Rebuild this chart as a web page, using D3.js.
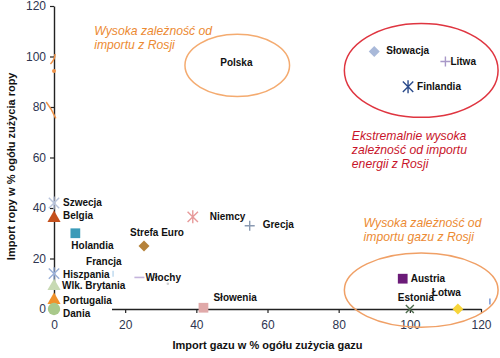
<!DOCTYPE html>
<html><head><meta charset="utf-8">
<script src="https://cdn.jsdelivr.net/npm/d3@7"></script>
<style>body{margin:0;background:#fff}svg{display:block}text{font-family:"Liberation Sans",Arial,sans-serif}</style>
</head><body>
<svg id="c" width="500" height="358"></svg>
<script>
const countries = ["Szwecja","Belgia","Holandia","Strefa Euro","Francja","Hiszpania","Włochy","","Wlk. Brytania","Portugalia","Dania","Niemcy","Grecja","Słowenia","Austria","Estonia","Łotwa","","Słowacja","Litwa","Finlandia","Polska"];
const gasImport = [0,0,6,25.3,16.6,0,24,32,0,0,0,39,55,42,98,100,113.5,122.5,90,110,99.5,51.5];
const oilImport = [42,36,30,25,14,14,12.5,10,9,3.5,0,36.5,33,0.5,12,0,0,3,102,98,88,97];
const markerShapes = ["asterisk","triangle","square","diamond","tick","asterisk","dash","dot","triangle","triangle","circle","asterisk","plus","square","square","x","diamond","tick","diamond","plus","asterisk","none"];
const markerColors = ["#b9c4dc","#c4501c","#3b9bb8","#b5823a","#bcd8ee","#9ab0d8","#c4b4dc","#cfcfcf","#c8dab4","#f0922c","#a9c98b","#e79a9a","#8a9ab2","#e0a9a9","#6b1b78","#4d6b4d","#f7d53a","#6f8fd0","#a9b9d9","#a898c8","#2b4b8b","none"];
const labelDx = [9,9,-4,-14,-27,9,6,0,8,9,9,17,13,10,8,-12,-26,0,12,5,9,-17];
const labelDy = [0,-3,12,-13,-12,1,0,0,-1,0,4,0,-1,-10,0,-12,-17,0,-1,0,0,-2];
const xTicks = [0,20,40,60,80,100,120];
const yTicks = [0,20,40,60,80,100,120];
const xTitle = "Import gazu w % ogółu zużycia gazu";
const yTitle = "Import ropy w % ogółu zużycia  ropy";
const notes = [
  {lines:["Wysoka zależność od","importu z Rosji"], color:"#ec8a32", gx:11.3, gy:108.5},
  {lines:["Ekstremalnie wysoka","zależność od importu","energii z Rosji"], color:"#c8142a", gx:83.7, gy:67},
  {lines:["Wysoka zależność od","importu gazu z Rosji"], color:"#ec8a32", gx:87, gy:32.6}
];
const ellipses = [
  {cx:51.5, cy:96.5, rx:14.7, ry:12.3, color:"#f4ab70"},
  {cx:103.2, cy:94.5, rx:21.6, ry:18.6, color:"#df3540"},
  {cx:103.2, cy:7.5, rx:21.6, ry:14.7, color:"#f0a066"}
];

const svg = d3.select("#c");
const x = d3.scaleLinear().domain([0,120]).range([54,481]);
const y = d3.scaleLinear().domain([0,120]).range([309,6]);

// axes
const xAxis = svg.append("g").attr("transform",`translate(0,${y(0)})`)
  .call(d3.axisBottom(x).tickValues(xTicks).tickSize(4).tickSizeOuter(0));
const yAxis = svg.append("g").attr("transform",`translate(${x(0)},0)`)
  .call(d3.axisLeft(y).tickValues(yTicks).tickSize(4).tickSizeOuter(0));
[xAxis,yAxis].forEach(a=>{
  a.select(".domain").attr("stroke","#222").attr("stroke-width",1.4);
  a.selectAll(".tick line").attr("stroke","#222").attr("stroke-width",1.2);
  a.selectAll(".tick text").attr("font-size",12).attr("fill","#2e3550").attr("font-family","Liberation Sans, Arial, sans-serif");
});
xAxis.selectAll(".tick text").attr("dy","1.05em");
yAxis.selectAll(".tick text").attr("x",-8);
// hidden part of x axis (covered in the original)
svg.append("rect").attr("x",x(0)+1).attr("y",y(0)-2).attr("width",x(16.3)-x(0)-1).attr("height",4).attr("fill","#fff");

// axis titles
svg.append("text").attr("x",(x(0)+x(120))/2).attr("y",349).attr("text-anchor","middle")
  .attr("font-size",11).attr("font-weight","bold").attr("fill","#111").text(xTitle);
svg.append("text").attr("transform",`translate(15,${y(56.5)}) rotate(-90)`).attr("text-anchor","middle")
  .attr("font-size",11).attr("font-weight","bold").attr("fill","#111").text(yTitle);

// ellipses
ellipses.forEach(e=>{
  svg.append("ellipse").attr("cx",x(e.cx)).attr("cy",y(e.cy))
    .attr("rx",x(e.rx)-x(0)).attr("ry",y(0)-y(e.ry))
    .attr("fill","none").attr("stroke",e.color).attr("stroke-width",1.5);
});
// orange fragments on the y axis
const frag = d3.path();
frag.moveTo(x(-1),y(97)); frag.quadraticCurveTo(x(0.3),y(99),x(0.3),y(101));
frag.moveTo(x(-2.2),y(82)); frag.quadraticCurveTo(x(-0.5),y(79),x(0.5),y(75.5));
svg.append("path").attr("d",frag.toString()).attr("fill","none").attr("stroke","#f0944a").attr("stroke-width",1.5);
svg.append("circle").attr("cx",x(0)).attr("cy",y(94.3)).attr("r",2).attr("fill","#f0944a");

// notes
notes.forEach(n=>{
  const t = svg.append("text").attr("x",x(n.gx)).attr("y",y(n.gy)).attr("font-size",12.2)
    .attr("font-style","italic").attr("fill",n.color);
  n.lines.forEach((l,i)=>t.append("tspan").attr("x",x(n.gx)).attr("dy",i?14:0).text(l));
});

// markers
function star(s){const r=s/2,d=r*0.8;return `M${-d},${-d}L${d},${d}M${-d},${d}L${d},${-d}M0,${-r}L0,${r}`;}
function diamond(r){return `M0,${-r}L${r},0L0,${r}L${-r},0Z`;}
const sym = {
  triangle: d3.symbol(d3.symbolTriangle,75)(),
  square: d3.symbol(d3.symbolSquare,95)(),
  diamond: diamond(5.5),
  circle: d3.symbol(d3.symbolCircle,120)(),
};
countries.forEach((c,i)=>{
  const sh=markerShapes[i], col=markerColors[i];
  const g = svg.append("g").attr("transform",`translate(${x(gasImport[i])},${y(oilImport[i])})`);
  if(sym[sh]) g.append("path").attr("d",sym[sh]).attr("fill",col);
  else if(sh==="asterisk") g.append("path").attr("d",star(13)).attr("stroke",col).attr("stroke-width",1.4).attr("fill","none");
  else if(sh==="plus") g.append("path").attr("d","M-5,0L5,0M0,-5L0,5").attr("stroke",col).attr("stroke-width",1.4);
  else if(sh==="x") g.append("path").attr("d","M-4,-4L4,4M-4,4L4,-4").attr("stroke",col).attr("stroke-width",1.4);
  else if(sh==="dash") g.append("path").attr("d","M-5,0L5,0").attr("stroke",col).attr("stroke-width",1.6);
  else if(sh==="tick") g.append("path").attr("d","M0,-3L0,3").attr("stroke",col).attr("stroke-width",1.4);
  else if(sh==="dot") g.append("circle").attr("r",1.3).attr("fill",col);
  if(c) svg.append("text").attr("x",x(gasImport[i])+labelDx[i]).attr("y",y(oilImport[i])+labelDy[i])
    .attr("dy","0.35em").attr("font-size",10).attr("font-weight","bold").attr("fill","#111").text(c);
});
</script>
</body></html>
